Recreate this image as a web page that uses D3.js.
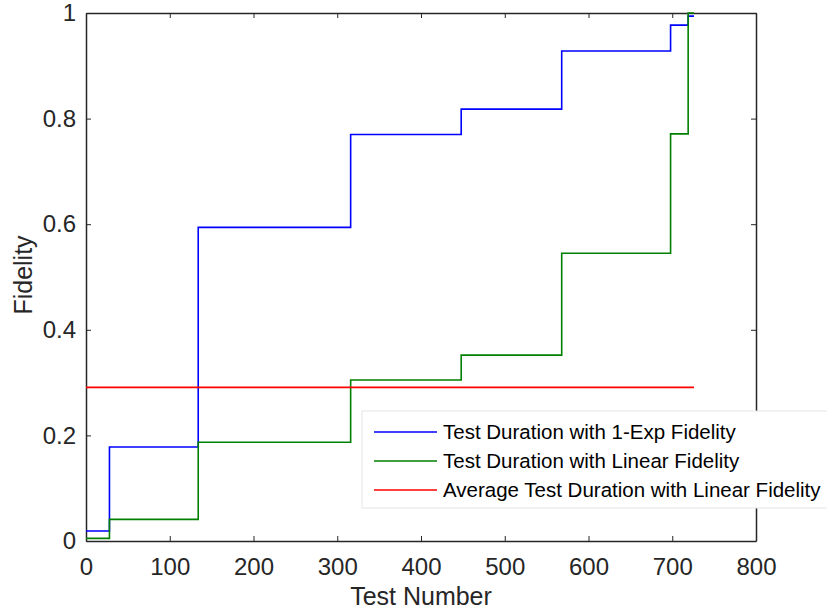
<!DOCTYPE html>
<html>
<head>
<meta charset="utf-8">
<script src="https://cdn.jsdelivr.net/npm/d3@7"></script>
<style>
  body { margin: 0; background: #fff; }
  text { font-family: "Liberation Sans", Arial, sans-serif; }
</style>
</head>
<body>
<div id="chart"></div>
<script>
// step positions (test number where each level starts, last = end)
var stepX = [0, 28, 134, 316, 448, 568, 698, 719, 726];
var expFidelity = [0.019, 0.178, 0.594, 0.770, 0.818, 0.928, 0.977, 0.994, 0.994];
var linFidelity = [0.005, 0.041, 0.187, 0.305, 0.352, 0.545, 0.771, 1.0, 1.0];
var avgX = [0, 726];
var avgLin = [0.291, 0.291];

var xTicks = [0, 100, 200, 300, 400, 500, 600, 700, 800];
var yTicks = [0, 0.2, 0.4, 0.6, 0.8, 1];
var legendNames = ["Test Duration with 1-Exp Fidelity", "Test Duration with Linear Fidelity", "Average Test Duration with Linear Fidelity"];
var colors = ["#0000ff", "#008000", "#ff0000"];

var width = 827, height = 613;
var margin = {top: 13, right: 71, bottom: 72, left: 86};

var svg = d3.select("#chart").append("svg")
    .attr("width", width)
    .attr("height", height);

var x = d3.scaleLinear().domain([0, 800]).range([margin.left, width - margin.right]);
var y = d3.scaleLinear().domain([0, 1]).range([height - margin.bottom, margin.top]);

var axisColor = "#262626";

// bottom axis with labels
var gx = svg.append("g")
    .attr("transform", "translate(0," + y(0) + ")")
    .call(d3.axisBottom(x).tickValues(xTicks).tickFormat(d3.format("d")).tickSizeInner(-5).tickSizeOuter(0).tickPadding(17));
// left axis
var gy = svg.append("g")
    .attr("transform", "translate(" + x(0) + ",0)")
    .call(d3.axisLeft(y).tickValues(yTicks).tickFormat(d => d == 0 || d == 1 ? d : d3.format(".1f")(d)).tickSizeInner(-5).tickSizeOuter(0).tickPadding(10));
// top + right (box)
var gt = svg.append("g")
    .attr("transform", "translate(0," + y(1) + ")")
    .call(d3.axisTop(x).tickValues(xTicks).tickFormat("").tickSizeInner(-5).tickSizeOuter(0));
var gr = svg.append("g")
    .attr("transform", "translate(" + x(800) + ",0)")
    .call(d3.axisRight(y).tickValues(yTicks).tickFormat("").tickSizeInner(-5).tickSizeOuter(0));

[gx, gy, gt, gr].forEach(function(g) {
  g.select(".domain").attr("stroke", axisColor).attr("stroke-width", 1.5);
  g.selectAll(".tick line").attr("stroke", axisColor).attr("stroke-width", 1);
  g.selectAll(".tick text").attr("fill", axisColor).style("font-size", "24px");
});

var line = d3.line()
    .x(d => x(d[0]))
    .y(d => y(d[1]))
    .curve(d3.curveStepAfter);

var series = [
  stepX.map((d, i) => [d, expFidelity[i]]),
  stepX.map((d, i) => [d, linFidelity[i]]),
  avgX.map((d, i) => [d, avgLin[i]])
];

svg.selectAll(".series")
    .data(series)
    .join("path")
    .attr("class", "series")
    .attr("d", line)
    .attr("fill", "none")
    .attr("stroke", (d, i) => colors[i])
    .attr("stroke-width", 1.6);

// axis labels
svg.append("text")
    .attr("x", (x(0) + x(800)) / 2)
    .attr("y", 605)
    .attr("text-anchor", "middle")
    .attr("fill", axisColor)
    .style("font-size", "25px")
    .text("Test Number");

svg.append("text")
    .attr("transform", "translate(32," + (y(0.5) - 2) + ") rotate(-90)")
    .attr("text-anchor", "middle")
    .attr("fill", axisColor)
    .style("font-size", "25px")
    .text("Fidelity");

// legend
var lg = svg.append("g").attr("transform", "translate(362,411)");
lg.append("rect")
    .attr("width", 470).attr("height", 97)
    .attr("fill", "#fff").attr("stroke", "#e6e6e6").attr("stroke-width", 1);

legendNames.forEach(function(name, i) {
  var yy = 21 + i * 29;
  lg.append("line")
      .attr("x1", 12).attr("x2", 75)
      .attr("y1", yy).attr("y2", yy)
      .attr("stroke", colors[i]).attr("stroke-width", 1.5);
  lg.append("text")
      .attr("x", 81).attr("y", yy)
      .attr("dy", "0.35em")
      .attr("fill", "#000")
      .style("font-size", "20.5px")
      .text(name);
});
</script>
</body>
</html>
